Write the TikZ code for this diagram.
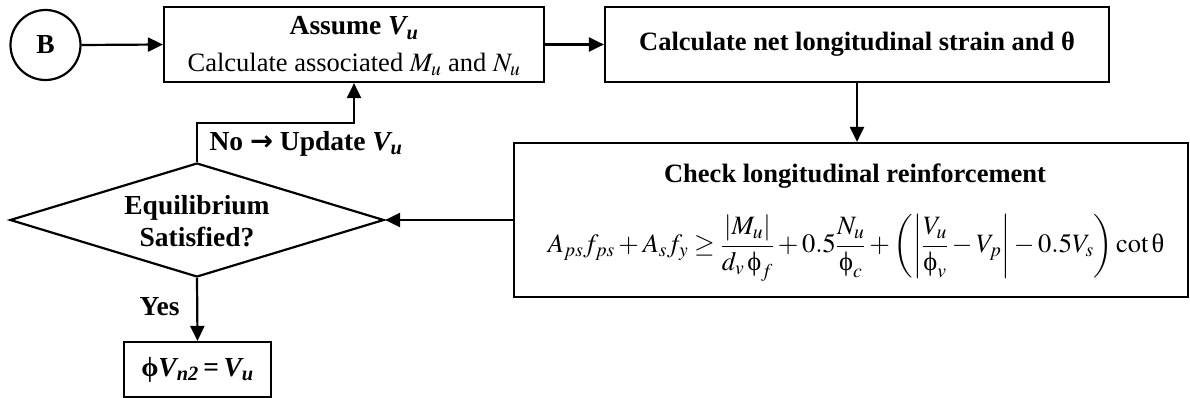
\documentclass[tikz,border=0pt]{standalone}
\usepackage{amsmath}
\usepackage{mathptmx}
\usepackage{fontspec}
\setmainfont{Liberation Serif}
\newfontfamily\grk{Liberation Serif}
\newfontfamily\dejavu{DejaVu Sans}
\usetikzlibrary{arrows.meta,shapes.geometric}
\tikzset{
  box/.style={draw, line width=2.2pt, fill=white, rectangle, inner sep=0pt, align=center},
  conn/.style={line width=2.2pt, -{Triangle[length=15pt,width=14pt]}},
  txt/.style={font=\fontsize{26.5}{31}\selectfont},
  btxt/.style={font=\fontsize{27.5}{32}\selectfont\bfseries},
  bttl/.style={font=\fontsize{26.5}{31}\selectfont\bfseries},
}
\newcommand{\gph}{\text{\grk ϕ}}
\newcommand{\gth}{\text{\grk θ}}
\newcommand{\bvar}[2]{$\text{\bfseries\itshape #1}_{\text{\bfseries\itshape #2}}$}
\begin{document}
\begin{tikzpicture}[x=1pt,y=-1pt]
\useasboundingbox (0,0) rectangle (1190,398);
% nodes
\node[draw, circle, line width=2.2pt, minimum size=70pt, inner sep=0pt, btxt] (B) at (45.5,45) {B};
\node[box, minimum width=380pt, minimum height=75pt] (b1) at (354,44.5) {};
\node[btxt] (b1t) at (354,28) {Assume \bvar{V}{u}};
\node[txt] (b1s) at (354,64) {Calculate associated $M_u$ and $N_u$};
\node[box, minimum width=504pt, minimum height=75pt, bttl] (b2) at (857,44.5) {Calculate net longitudinal strain and \gth};
\node[box, minimum width=674pt, minimum height=154pt] (b3) at (851,220) {};
\node[bttl] (b3t) at (855,176) {Check longitudinal reinforcement};
\node[font=\fontsize{26.5}{31}\selectfont] (eq) at (856,248)
  {$A_{ps}f_{ps} + A_s f_y \ge \dfrac{|M_u|}{d_v\,\gph_f} + 0.5\dfrac{N_u}{\gph_c} + \left(\left|\dfrac{V_u}{\gph_v} - V_p\right| - 0.5V_s\right)\cot\gth$};
\node[draw, diamond, line width=2.2pt, fill=white, minimum width=374pt, minimum height=114pt, inner sep=0pt, aspect=3.28] (dia) at (197,220) {};
\node[btxt, align=center] (diat) at (197,221) {Equilibrium\\Satisfied?};
\node[box, minimum width=147pt, minimum height=55pt, btxt] (b4) at (197.5,369.5) {\gph\bvar{V}{n2}\,=\,\bvar{V}{u}};
\coordinate (knee) at (197,123);
% labels
\node[btxt, anchor=west] (no) at (206,144) {No {\dejavu\bfseries →} Update \bvar{V}{u}};
\node[btxt, anchor=east] (yes) at (183,307) {Yes};
% connectors
\draw[conn] (B.east) -- (b1.west);
\draw[conn] (b1.east) -- (b2.west);
\draw[conn] (b2.south) -- (b2.south |- b3.north);
\draw[conn] (b3.west |- dia.east) -- (dia.east);
\draw[conn] (dia.north) -- (knee) -| (b1.south);
\draw[conn] (dia.south) -- (b4.north);
\end{tikzpicture}
\end{document}
